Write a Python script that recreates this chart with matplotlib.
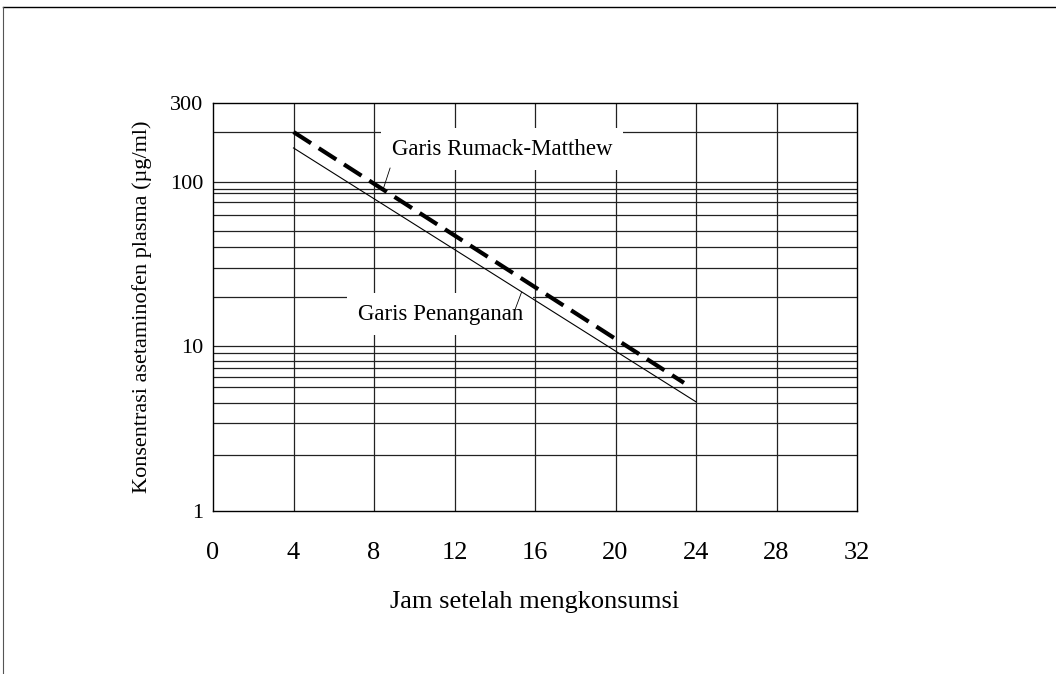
import matplotlib
matplotlib.use("Agg")
import matplotlib.pyplot as plt
from matplotlib.lines import Line2D

plt.rcParams['font.family'] = ['Liberation Serif', 'DejaVu Serif']

# Data
hours = [0, 4, 8, 12, 16, 20, 24, 28, 32]
y_ticks = [1, 10, 100, 300]
y_tick_labels = ["1", "10", "100", "300"]
h_grid_values = [200, 100, 90, 85, 75, 63, 50, 40, 30, 20,
                 10, 9.1, 8.2, 7.4, 6.5, 5.7, 4.5, 3.4, 2.2]
v_grid_values = [4, 8, 12, 16, 20, 24, 28]

rm_hours = [4, 23.4]        # Garis Rumack-Matthew (dashed)
rm_conc = [200, 6.0]
tr_hours = [4, 24]          # Garis Penanganan (solid)
tr_conc = [160, 4.6]

fig = plt.figure(figsize=(10.56, 6.74), dpi=100)
ax = fig.add_axes([0.2017, 0.2418, 0.6099, 0.6054])
ax.set_yscale('log')
ax.set_xlim(0, 32)
ax.set_ylim(1, 300)

for v in h_grid_values:
    ax.axhline(v, color='#222222', lw=0.9, zorder=1)
for v in v_grid_values:
    ax.axvline(v, color='#222222', lw=0.9, zorder=1)

ax.plot(rm_hours, rm_conc, color='black', lw=3.0, dashes=(5.0, 2.2), zorder=5,
        solid_capstyle='butt', dash_capstyle='butt')
ax.plot(tr_hours, tr_conc, color='black', lw=0.8, zorder=5)

ax.set_xticks(hours)
ax.set_xticklabels([str(h) for h in hours], fontsize=19)
ax.set_yticks(y_ticks)
ax.set_yticklabels(y_tick_labels, fontsize=16)
ax.minorticks_off()
ax.tick_params(axis='x', length=0, pad=22)
ax.tick_params(axis='y', length=0, pad=7)
ax.set_xlabel("Jam setelah mengkonsumsi", fontsize=19, labelpad=20)
ax.set_ylabel("Konsentrasi asetaminofen plasma (µg/ml)", fontsize=16, labelpad=13)

for s in ax.spines.values():
    s.set_color('black')
    s.set_linewidth(1.0)
    s.set_zorder(6)

# Labels with white background and leader lines
ax.text(14.36, 157, "Garis Rumack-Matthew", fontsize=16.5, ha='center', va='center',
        zorder=3, bbox=dict(boxstyle='square,pad=0.45', fc='white', ec='none'))
ax.annotate("", xy=(8.45, 89.5), xytext=(8.8, 121), zorder=4,
            arrowprops=dict(arrowstyle='-', color='black', lw=0.6,
                            shrinkA=0, shrinkB=0))
ax.text(11.3, 15.7, "Garis Penanganan", fontsize=16.5, ha='center', va='center',
        zorder=3, bbox=dict(boxstyle='square,pad=0.45', fc='white', ec='none'))
ax.annotate("", xy=(15.33, 21.3), xytext=(15.0, 16.6), zorder=4,
            arrowprops=dict(arrowstyle='-', color='black', lw=0.6,
                            shrinkA=0, shrinkB=0))

# Figure border (top and left)
fig.add_artist(Line2D([3/1056, 1.0], [1 - 7/674, 1 - 7/674],
                      transform=fig.transFigure, color='black', lw=1.0))
fig.add_artist(Line2D([3/1056, 3/1056], [0.0, 1 - 7/674],
                      transform=fig.transFigure, color='#555555', lw=0.8))

fig.savefig("out.png", dpi=100)
